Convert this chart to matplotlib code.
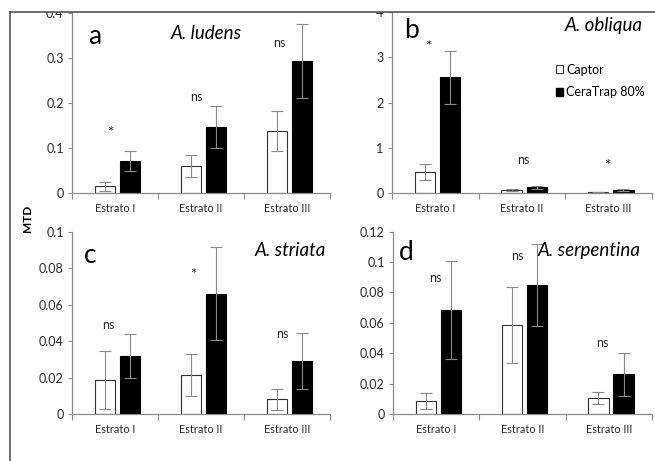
import matplotlib.pyplot as plt
import matplotlib.patches as mpatches
import numpy as np

plt.rcParams['font.family'] = ['Lato', 'DejaVu Sans']

"""data read off the figure"""
estratos = ['Estrato I', 'Estrato II', 'Estrato III']
series = ['Captor', 'CeraTrap 80%']

# a - A. ludens
a_captor = [0.016, 0.061, 0.139]
a_captor_err = [0.010, 0.025, 0.044]
a_cera = [0.072, 0.147, 0.294]
a_cera_err = [0.023, 0.047, 0.082]
a_marks = ['*', 'ns', 'ns']

# b - A. obliqua
b_captor = [0.47, 0.07, 0.02]
b_captor_err = [0.18, 0.02, 0.01]
b_cera = [2.56, 0.13, 0.07]
b_cera_err = [0.58, 0.03, 0.03]
b_marks = ['*', 'ns', '*']

# c - A. striata
c_captor = [0.0187, 0.0215, 0.008]
c_captor_err = [0.016, 0.0115, 0.0056]
c_cera = [0.032, 0.066, 0.029]
c_cera_err = [0.012, 0.0256, 0.0155]
c_marks = ['ns', '*', 'ns']

# d - A. serpentina
d_captor = [0.0086, 0.0586, 0.0107]
d_captor_err = [0.0055, 0.025, 0.004]
d_cera = [0.0684, 0.0849, 0.0261]
d_cera_err = [0.032, 0.027, 0.014]
d_marks = ['ns', 'ns', 'ns']

W, H = 655, 461
fig = plt.figure(figsize=(W / 100, H / 100), dpi=100)

def box(x0, x1, ytop, ybot):
    return [x0 / W, 1 - ybot / H, (x1 - x0) / W, (ybot - ytop) / H]

grey = '#8a8a8a'
txt = '#2a2a2a'
x = np.arange(3)
off_w, off_b, bw = -0.12, 0.17, 0.235

def panel(rect, cap, cap_e, cera, cera_e, ylim, yticks, ylabels, letter, lpos,
          title, tpos, marks, mpos):
    ax = fig.add_axes(rect)
    ax.bar(x + off_w, cap, bw, color='white', edgecolor='#333333', lw=0.8)
    ax.bar(x + off_b, cera, bw, color='black', edgecolor='black', lw=0.8)
    ax.errorbar(x + off_w, cap, yerr=cap_e, fmt='none', ecolor=grey,
                elinewidth=0.8, capsize=4.5, capthick=0.8)
    ax.errorbar(x + off_b, cera, yerr=cera_e, fmt='none', ecolor=grey,
                elinewidth=0.8, capsize=4.5, capthick=0.8)
    ax.set_xlim(-0.5, 2.5)
    ax.set_ylim(*ylim)
    ax.set_yticks(yticks)
    ax.set_yticklabels(ylabels, fontsize=9, color=txt)
    ax.set_xticks([-0.5, 0.5, 1.5, 2.5])
    ax.set_xticklabels([])
    ax.set_xticks(x, minor=True)
    ax.set_xticklabels(estratos, minor=True, fontsize=7.8, color=txt)
    ax.tick_params(axis='x', which='minor', length=0, pad=7)
    ax.tick_params(axis='x', which='major', length=4, color=grey, direction='out')
    ax.tick_params(axis='y', length=3, color=grey, pad=3)
    for s in ['top', 'right']:
        ax.spines[s].set_visible(False)
    for s in ['left', 'bottom']:
        ax.spines[s].set_color(grey)
        ax.spines[s].set_linewidth(0.9)
    ax.patch.set_alpha(0)
    fig.text(lpos[0] / W, 1 - lpos[1] / H, letter, fontsize=19, ha='center', va='center')
    fig.text(tpos[0] / W, 1 - tpos[1] / H, title, fontsize=13.5, style='italic',
             ha='left', va='center')
    for (mx, my), m in zip(mpos, marks):
        fig.text(mx / W, 1 - my / H, m, fontsize=9 if m == 'ns' else 11,
                 ha='center', va='center', color=txt)
    return ax

panel(box(72, 330, 12, 193.3), a_captor, a_captor_err, a_cera, a_cera_err,
      (0, 0.403), [0, 0.1, 0.2, 0.3, 0.4], ['0', '0.1', '0.2', '0.3', '0.4'],
      'a', (95, 36), 'A. ludens', (171, 33), a_marks,
      [(110, 133), (196, 97), (279, 43)])

axb = panel(box(392, 652, 12, 193.3), b_captor, b_captor_err, b_cera, b_cera_err,
            (0, 3.98), [0, 1, 2, 3, 4], ['0', '1', '2', '3', '4'],
            'b', (412, 31), 'A. obliqua', (565, 26), b_marks,
            [(428, 47), (523, 160), (607, 166)])

panel(box(72, 330, 231.7, 414), c_captor, c_captor_err, c_cera, c_cera_err,
      (0, 0.1), [0, 0.02, 0.04, 0.06, 0.08, 0.1],
      ['0', '0.02', '0.04', '0.06', '0.08', '0.1'],
      'c', (90, 255), 'A. striata', (255, 250), c_marks,
      [(108, 325), (193, 275), (282, 334)])

panel(box(393, 652, 231.7, 414), d_captor, d_captor_err, d_cera, d_cera_err,
      (0, 0.12), [0, 0.02, 0.04, 0.06, 0.08, 0.1, 0.12],
      ['0', '0.02', '0.04', '0.06', '0.08', '0.1', '0.12'],
      'd', (406, 253), 'A. serpentina', (538, 250), d_marks,
      [(435, 278), (517, 256), (602, 343)])

handles = [mpatches.Patch(facecolor='white', edgecolor='#333333', lw=0.8),
           mpatches.Patch(facecolor='black', edgecolor='black')]
axb.legend(handles, series, loc='center left',
           bbox_to_anchor=((556 - 392) / 260, (193.3 - 81) / 181.3),
           frameon=False, fontsize=9, handlelength=0.55, handleheight=0.55,
           handletextpad=0.25, labelspacing=0.85, borderaxespad=0, borderpad=0)

fig.text(27 / W, 1 - 218 / H, 'MTD', rotation=90, fontsize=8.5, fontweight='bold',
         ha='center', va='center')

# outer frame, top part of the scan is cut off
fig.add_artist(mpatches.Rectangle((0, 1 - 12 / H), 1, 12 / H, transform=fig.transFigure,
                                  facecolor='white', edgecolor='none', zorder=10))
fig.add_artist(plt.Line2D([10 / W, 10 / W], [0, 1 - 12 / H], transform=fig.transFigure,
                          color='#555555', lw=1.2, zorder=11))
fig.add_artist(plt.Line2D([10 / W, 1], [1 - 12 / H, 1 - 12 / H], transform=fig.transFigure,
                          color='#555555', lw=1.2, zorder=11))

fig.savefig('out.png', dpi=100)
